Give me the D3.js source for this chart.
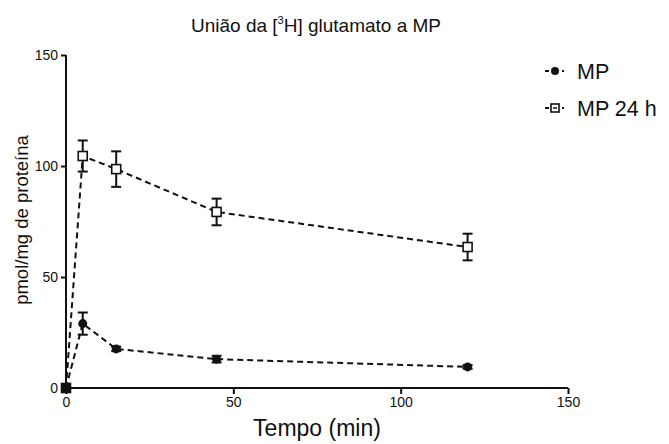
<!DOCTYPE html>
<html>
<head>
<meta charset="utf-8">
<script src="https://cdn.jsdelivr.net/npm/d3@7/dist/d3.min.js"></script>
<style>
  body { margin: 0; background: #fff; }
  svg { display: block; font-family: "Liberation Sans", Arial, sans-serif; }
</style>
</head>
<body>
<svg id="chart" width="669" height="444"></svg>
<script>
// Binding time course (min) and specific binding (pmol/mg protein), mean ± SEM
const times = [0, 5, 15, 45, 120];
const mpValues = [0, 29, 17.6, 13, 9.5];
const mpErrors = [0, 5, 1, 1.5, 0.8];
const mp24Values = [0, 104.5, 98.6, 79.3, 63.5];
const mp24Errors = [0, 7, 8, 6, 6];
const seriesNames = ["MP", "MP 24 h"];
const xTicks = [0, 50, 100, 150];
const yTicks = [0, 50, 100, 150];

const svg = d3.select("#chart");
const margin = { left: 66, right: 101, top: 55, bottom: 56 };
const W = 669, H = 444;

const x = d3.scaleLinear().domain([0, 150]).range([margin.left, W - margin.right]);
const y = d3.scaleLinear().domain([0, 150]).range([H - margin.bottom, margin.top]);

// Title with superscript
const title = svg.append("text")
  .attr("x", 316).attr("y", 32)
  .attr("text-anchor", "middle")
  .attr("font-size", 19)
  .attr("fill", "#111");
title.append("tspan").text("União da [");
title.append("tspan").attr("font-size", 11).attr("dy", -8).text("3");
title.append("tspan").attr("dy", 8).text("H] glutamato a MP");

// Axes
const xAxis = svg.append("g")
  .attr("transform", `translate(0,${y(0)})`)
  .call(d3.axisBottom(x).tickValues(xTicks).tickSize(6).tickPadding(3));
const yAxis = svg.append("g")
  .attr("transform", `translate(${x(0)},0)`)
  .call(d3.axisLeft(y).tickValues(yTicks).tickSize(5).tickPadding(3));

[xAxis, yAxis].forEach(g => {
  g.select(".domain").attr("stroke", "#111").attr("stroke-width", 2)
    .attr("d", g === xAxis ? `M${x(0)},0H${x(150)}` : `M0,${y(0)}V${y(150)}`);
  g.selectAll(".tick line").attr("stroke", "#111").attr("stroke-width", 2);
  g.selectAll(".tick text").attr("font-size", 14).attr("fill", "#111")
    .attr("font-family", "Liberation Sans, Arial, sans-serif");
});

// Axis titles
svg.append("text")
  .attr("x", x(75)).attr("y", 436)
  .attr("text-anchor", "middle")
  .attr("font-size", 23).attr("fill", "#111")
  .text("Tempo (min)");
svg.append("text")
  .attr("transform", `translate(28,220) rotate(-90)`)
  .attr("text-anchor", "middle")
  .attr("font-size", 18.5).attr("fill", "#111")
  .text("pmol/mg de proteína");

const line = d3.line().x(d => x(d.t)).y(d => y(d.v));

const series = [
  { name: seriesNames[0], values: mpValues, errors: mpErrors, marker: "circle" },
  { name: seriesNames[1], values: mp24Values, errors: mp24Errors, marker: "square" }
];

series.forEach(s => {
  const pts = times.map((t, i) => ({ t, v: s.values[i], e: s.errors[i] }));
  const g = svg.append("g");

  g.append("path")
    .datum(pts)
    .attr("d", line)
    .attr("fill", "none")
    .attr("stroke", "#111")
    .attr("stroke-width", 2)
    .attr("stroke-dasharray", "6,4");

  // Error bars
  const eb = g.selectAll(".eb").data(pts.filter(d => d.e > 0)).join("g");
  eb.append("line")
    .attr("x1", d => x(d.t)).attr("x2", d => x(d.t))
    .attr("y1", d => y(d.v + d.e)).attr("y2", d => y(d.v - d.e))
    .attr("stroke", "#111").attr("stroke-width", 2);
  [1, -1].forEach(sign => {
    eb.append("line")
      .attr("x1", d => x(d.t) - 5).attr("x2", d => x(d.t) + 5)
      .attr("y1", d => y(d.v + sign * d.e)).attr("y2", d => y(d.v + sign * d.e))
      .attr("stroke", "#111").attr("stroke-width", 2);
  });

  // Markers
  if (s.marker === "circle") {
    g.selectAll(".m").data(pts).join("circle")
      .attr("cx", d => x(d.t)).attr("cy", d => y(d.v)).attr("r", 4.5)
      .attr("fill", "#111");
  } else {
    g.selectAll(".m").data(pts).join("rect")
      .attr("x", d => x(d.t) - 4.5).attr("y", d => y(d.v) - 4.5)
      .attr("width", 9).attr("height", 9)
      .attr("fill", d => d.v === 0 ? "#111" : "#fff")
      .attr("stroke", "#111").attr("stroke-width", 1.6);
  }
});

// Legend
const legend = svg.append("g");
series.forEach((s, i) => {
  const ly = 71 + i * 37;
  const lg = legend.append("g");
  lg.append("line").attr("x1", 545).attr("x2", 549).attr("y1", ly).attr("y2", ly)
    .attr("stroke", "#111").attr("stroke-width", 2);
  lg.append("line").attr("x1", 562).attr("x2", 564).attr("y1", ly).attr("y2", ly)
    .attr("stroke", "#111").attr("stroke-width", 2);
  if (s.marker === "circle") {
    lg.append("circle").attr("cx", 555).attr("cy", ly).attr("r", 4).attr("fill", "#111");
  } else {
    lg.append("rect").attr("x", 551).attr("y", ly - 4).attr("width", 8).attr("height", 8)
      .attr("fill", "#fff").attr("stroke", "#111").attr("stroke-width", 1.6);
    lg.append("line").attr("x1", 553).attr("x2", 557).attr("y1", ly).attr("y2", ly)
      .attr("stroke", "#111").attr("stroke-width", 1.5);
  }
  lg.append("text").attr("x", 577).attr("y", ly + 8)
    .attr("font-size", 21.5).attr("fill", "#111").text(s.name);
});
</script>
</body>
</html>
